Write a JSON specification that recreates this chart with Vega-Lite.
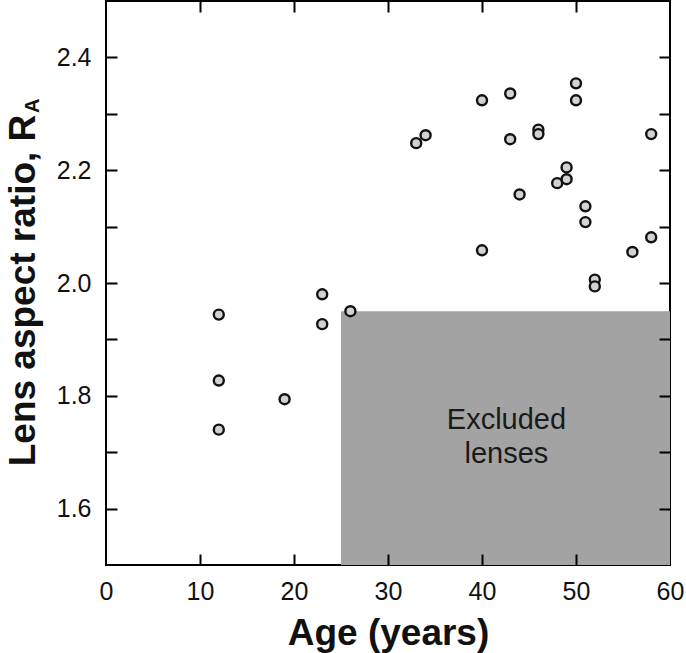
{
  "$schema": "https://vega.github.io/schema/vega-lite/v6.json",
  "width": 564,
  "height": 564,
  "autosize": {"type": "none"},
  "padding": {"left": 106, "top": 1, "right": 16, "bottom": 88},
  "background": "white",
  "config": {
    "view": {"stroke": "black", "strokeWidth": 2},
    "font": "Liberation Sans",
    "axis": {
      "grid": false,
      "labelFont": "Liberation Sans", "labelFontSize": 25, "labelColor": "#111",
      "titleFont": "Liberation Sans", "titleFontSize": 37, "titleFontWeight": "bold", "titleColor": "#111"
    }
  },
  "resolve": {"axis": {"x": "independent", "y": "independent"}},
  "layer": [
    {
      "data": {"values": [{"x": 25, "x2": 60, "y": 1.5, "y2": 1.95}]},
      "mark": {"type": "rect", "color": "#a3a3a3"},
      "encoding": {
        "x": {"field": "x", "type": "quantitative", "scale": {"domain": [0, 60], "nice": false},
          "axis": {"orient": "bottom", "values": [0, 10, 20, 30, 40, 50, 60], "domain": false, "ticks": false, "labelPadding": 14, "title": "Age (years)", "titlePadding": 11, "labelFlush": false}},
        "x2": {"field": "x2"},
        "y": {"field": "y", "type": "quantitative", "scale": {"domain": [1.5, 2.5], "nice": false, "zero": false},
          "axis": {"orient": "left", "values": [1.6, 1.7, 1.8, 1.9, 2.0, 2.1, 2.2, 2.3, 2.4], "domain": false, "ticks": false,
            "labelExpr": "abs(round(datum.value*10) % 2) == 0 ? format(datum.value, '.1f') : ''",
            "labelPadding": 15, "title": "Lens aspect ratio, R", "titlePadding": 14, "titleY": 289}},
        "y2": {"field": "y2"}
      }
    },
    {
      "data": {"values": [{"x": 30, "y": 2.0}]},
      "mark": {"type": "point", "opacity": 0},
      "encoding": {
        "x": {"field": "x", "type": "quantitative", "scale": {"domain": [0, 60], "nice": false},
          "axis": {"orient": "bottom", "offset": -11, "values": [10, 20, 30, 40, 50], "domain": false, "ticks": true, "tickSize": 11, "tickWidth": 2, "tickColor": "#000000", "tickOpacity": 1, "labels": false, "title": null, "zindex": 2}},
        "y": {"field": "y", "type": "quantitative", "scale": {"domain": [1.5, 2.5], "nice": false, "zero": false},
          "axis": {"orient": "left", "offset": -11, "values": [1.6, 1.7, 1.8, 1.9, 2.0, 2.1, 2.2, 2.3, 2.4], "domain": false, "ticks": true, "tickSize": 11, "tickWidth": 2, "tickColor": "#000000", "tickOpacity": 1, "labels": false, "title": null, "zindex": 2}}
      }
    },
    {
      "data": {"values": [{"x": 30, "y": 2.0}]},
      "mark": {"type": "point", "opacity": 0},
      "encoding": {
        "x": {"field": "x", "type": "quantitative", "scale": {"domain": [0, 60], "nice": false},
          "axis": {"orient": "top", "offset": -11, "values": [10, 20, 30, 40, 50], "domain": false, "ticks": true, "tickSize": 11, "tickWidth": 2, "tickColor": "#000000", "tickOpacity": 1, "labels": false, "title": null, "zindex": 2}},
        "y": {"field": "y", "type": "quantitative", "scale": {"domain": [1.5, 2.5], "nice": false, "zero": false},
          "axis": {"orient": "right", "offset": -11, "values": [1.6, 1.7, 1.8, 1.9, 2.0, 2.1, 2.2, 2.3, 2.4], "domain": false, "ticks": true, "tickSize": 11, "tickWidth": 2, "tickColor": "#000000", "tickOpacity": 1, "labels": false, "title": null, "zindex": 2}}
      }
    },
    {
      "data": {"values": [
        {"age": 12, "ra": 1.944}, {"age": 12, "ra": 1.827}, {"age": 12, "ra": 1.740},
        {"age": 19, "ra": 1.794}, {"age": 23, "ra": 1.980}, {"age": 23, "ra": 1.927},
        {"age": 26, "ra": 1.950}, {"age": 33, "ra": 2.248}, {"age": 34, "ra": 2.262},
        {"age": 40, "ra": 2.324}, {"age": 40, "ra": 2.058}, {"age": 43, "ra": 2.336},
        {"age": 43, "ra": 2.255}, {"age": 44, "ra": 2.157}, {"age": 46, "ra": 2.272},
        {"age": 46, "ra": 2.264}, {"age": 48, "ra": 2.177}, {"age": 49, "ra": 2.205},
        {"age": 49, "ra": 2.184}, {"age": 50, "ra": 2.354}, {"age": 50, "ra": 2.324},
        {"age": 51, "ra": 2.136}, {"age": 51, "ra": 2.108}, {"age": 52, "ra": 2.006},
        {"age": 52, "ra": 1.994}, {"age": 56, "ra": 2.055}, {"age": 58, "ra": 2.264},
        {"age": 58, "ra": 2.081}
      ]},
      "mark": {"type": "circle", "size": 100, "fill": "#d2d2d2", "stroke": "#111", "strokeWidth": 2.4, "opacity": 1},
      "encoding": {
        "x": {"field": "age", "type": "quantitative", "scale": {"domain": [0, 60], "nice": false}, "axis": null},
        "y": {"field": "ra", "type": "quantitative", "scale": {"domain": [1.5, 2.5], "nice": false, "zero": false}, "axis": null}
      }
    },
    {
      "data": {"values": [{"x": 42.6, "y": 1.757, "label": ["Excluded", "lenses"]}]},
      "mark": {"type": "text", "fontSize": 29, "font": "Liberation Sans", "color": "#1a1a1a", "align": "center", "baseline": "middle", "lineHeight": 34},
      "encoding": {
        "x": {"field": "x", "type": "quantitative", "scale": {"domain": [0, 60], "nice": false}, "axis": null},
        "y": {"field": "y", "type": "quantitative", "scale": {"domain": [1.5, 2.5], "nice": false, "zero": false}, "axis": null},
        "text": {"field": "label"}
      }
    },
    {
      "data": {"values": [{"x": -7.8, "y": 2.314, "label": "A"}]},
      "mark": {"type": "text", "fontSize": 20, "fontWeight": "bold", "font": "Liberation Sans", "color": "#111", "align": "center", "baseline": "middle", "angle": 270},
      "encoding": {
        "x": {"field": "x", "type": "quantitative", "scale": {"domain": [0, 60], "nice": false}, "axis": null},
        "y": {"field": "y", "type": "quantitative", "scale": {"domain": [1.5, 2.5], "nice": false, "zero": false}, "axis": null},
        "text": {"field": "label"}
      }
    }
  ]
}
